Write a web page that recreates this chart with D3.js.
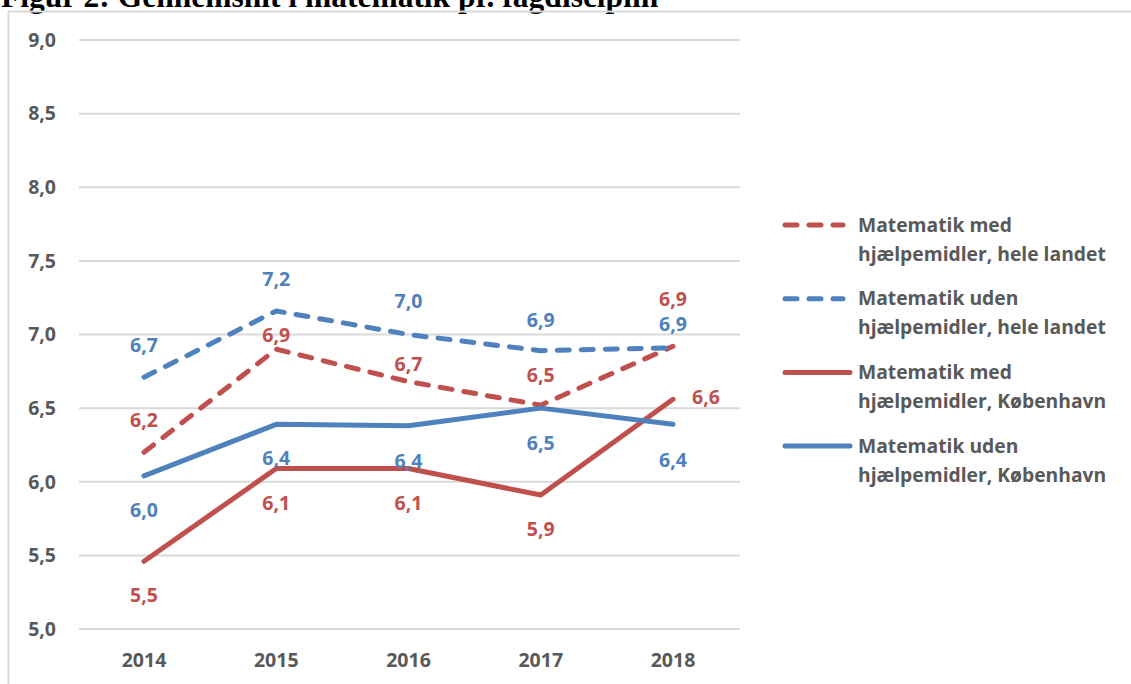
<!DOCTYPE html>
<html>
<head>
<meta charset="utf-8">
<script src="https://cdn.jsdelivr.net/npm/d3@7"></script>
<style>
    body { margin: 0; background: #fff; }
    #chart { width: 1131px; height: 684px; }
    .tick-label { font-family: "Open Sans", Lato, sans-serif; font-weight: bold; font-size: 19.5px; fill: #595959; }
    .data-label { font-family: "Open Sans", Lato, sans-serif; font-weight: bold; font-size: 19.5px; }
    .legend-text { font-family: "Open Sans", Lato, sans-serif; font-weight: bold; font-size: 19.3px; fill: #595959; }
</style>
</head>
<body>
<div id="chart"></div>
<script>

// data
const years = ["2014", "2015", "2016", "2017", "2018"];
const medLandet = [6.20, 6.90, 6.68, 6.52, 6.92];   // med hjælpemidler, hele landet
const udenLandet = [6.71, 7.16, 7.00, 6.89, 6.91];  // uden hjælpemidler, hele landet
const medKbh = [5.46, 6.09, 6.09, 5.91, 6.56];      // med hjælpemidler, København
const udenKbh = [6.04, 6.39, 6.38, 6.50, 6.39];     // uden hjælpemidler, København
const yTicks = [5.0, 5.5, 6.0, 6.5, 7.0, 7.5, 8.0, 8.5, 9.0];
const seriesNames = [
    ["Matematik med", "hjælpemidler, hele landet"],
    ["Matematik uden", "hjælpemidler, hele landet"],
    ["Matematik med", "hjælpemidler, København"],
    ["Matematik uden", "hjælpemidler, København"]
];
const titleText = "Figur 2: Gennemsnit i matematik pr. fagdisciplin";

class lineChart {

    constructor(parentElement) {
        this.parentElement = parentElement;
        this.red = "#C0504D";
        this.blue = "#4F81BD";
        this.initVis();
    }

    initVis() {
        let vis = this;

        vis.width = 1131;
        vis.height = 684;

        vis.svg = d3.select("#" + vis.parentElement).append("svg")
            .attr("width", vis.width)
            .attr("height", vis.height);

        // title is cut off at the top of the picture (as in the original)
        vis.svg.append("text")
            .attr("x", 1)
            .attr("y", 7)
            .attr("font-family", "'Liberation Serif', 'Times New Roman', serif")
            .attr("font-weight", "bold")
            .attr("font-size", 31.5)
            .attr("fill", "#000")
            .text(titleText);

        // chart frame (only top and left are visible)
        vis.svg.append("path")
            .attr("d", "M8.5,690 V11.5 H1131")
            .attr("fill", "none")
            .attr("stroke", "#d9d9d9")
            .attr("stroke-width", 2);

        vis.x = d3.scalePoint()
            .domain(years)
            .range([144, 673]);

        vis.y = d3.scaleLinear()
            .domain([5, 9])
            .range([629, 40]);

        // gridlines
        vis.svg.append("g").selectAll("line")
            .data(yTicks)
            .enter()
            .append("line")
            .attr("x1", 79)
            .attr("x2", 740)
            .attr("y1", d => vis.y(d))
            .attr("y2", d => vis.y(d))
            .attr("stroke", "#d9d9d9")
            .attr("stroke-width", 2);

        vis.svg.append("g").selectAll("text")
            .data(yTicks)
            .enter()
            .append("text")
            .attr("class", "tick-label")
            .attr("x", 56)
            .attr("y", d => vis.y(d))
            .attr("dy", "0.35em")
            .attr("text-anchor", "end")
            .text(d => d.toFixed(1).replace(".", ","));

        vis.svg.append("g").selectAll("text")
            .data(years)
            .enter()
            .append("text")
            .attr("class", "tick-label")
            .attr("x", d => vis.x(d))
            .attr("y", 660)
            .attr("dy", "0.35em")
            .attr("text-anchor", "middle")
            .text(d => d);

        vis.line = d3.line()
            .x((d, i) => vis.x(years[i]))
            .y(d => vis.y(d));

        vis.wrangleData();
    }

    wrangleData() {
        let vis = this;

        // label offsets are layout, not data: [dx, dy] relative to the point
        vis.series = [
            {values: medLandet, color: vis.red, dashed: true,
                offsets: [[0, -32], [0, -14], [0, -17], [0, -30], [0, -47]]},
            {values: udenLandet, color: vis.blue, dashed: true,
                offsets: [[0, -32], [0, -32], [0, -33], [0, -31], [0, -24]]},
            {values: medKbh, color: vis.red, dashed: false,
                offsets: [[0, 34], [0, 35], [0, 35], [0, 34], [33, -2]]},
            {values: udenKbh, color: vis.blue, dashed: false,
                offsets: [[0, 34], [0, 34], [0, 35], [0, 35], [0, 36]]}
        ];

        vis.updateVis();
    }

    updateVis() {
        let vis = this;

        vis.series.forEach(s => {
            vis.svg.append("path")
                .datum(s.values)
                .attr("d", vis.line)
                .attr("fill", "none")
                .attr("stroke", s.color)
                .attr("stroke-width", 5)
                .attr("stroke-linejoin", "round")
                .attr("stroke-linecap", "round")
                .attr("stroke-dasharray", s.dashed ? "12,12" : null);
        });

        vis.series.forEach(s => {
            vis.svg.append("g").selectAll("text")
                .data(s.values)
                .enter()
                .append("text")
                .attr("class", "data-label")
                .attr("x", (d, i) => vis.x(years[i]) + s.offsets[i][0])
                .attr("y", (d, i) => vis.y(d) + s.offsets[i][1])
                .attr("dy", "0.35em")
                .attr("text-anchor", "middle")
                .attr("fill", s.color)
                .text(d => d.toFixed(1).replace(".", ","));
        });

        // legend
        let legend = vis.svg.append("g");
        vis.series.forEach((s, i) => {
            let top = 225 + i * 73.7;
            legend.append("line")
                .attr("x1", 785)
                .attr("x2", s.dashed ? 843 : 850)
                .attr("y1", top)
                .attr("y2", top)
                .attr("stroke", s.color)
                .attr("stroke-width", 5)
                .attr("stroke-linecap", "round")
                .attr("stroke-dasharray", s.dashed ? "12,12" : null);

            seriesNames[i].forEach((row, j) => {
                legend.append("text")
                    .attr("class", "legend-text")
                    .attr("x", 858)
                    .attr("y", top + j * 29)
                    .attr("dy", "0.35em")
                    .text(row);
            });
        });
    }
}

let chart = new lineChart("chart");

</script>
</body>
</html>
